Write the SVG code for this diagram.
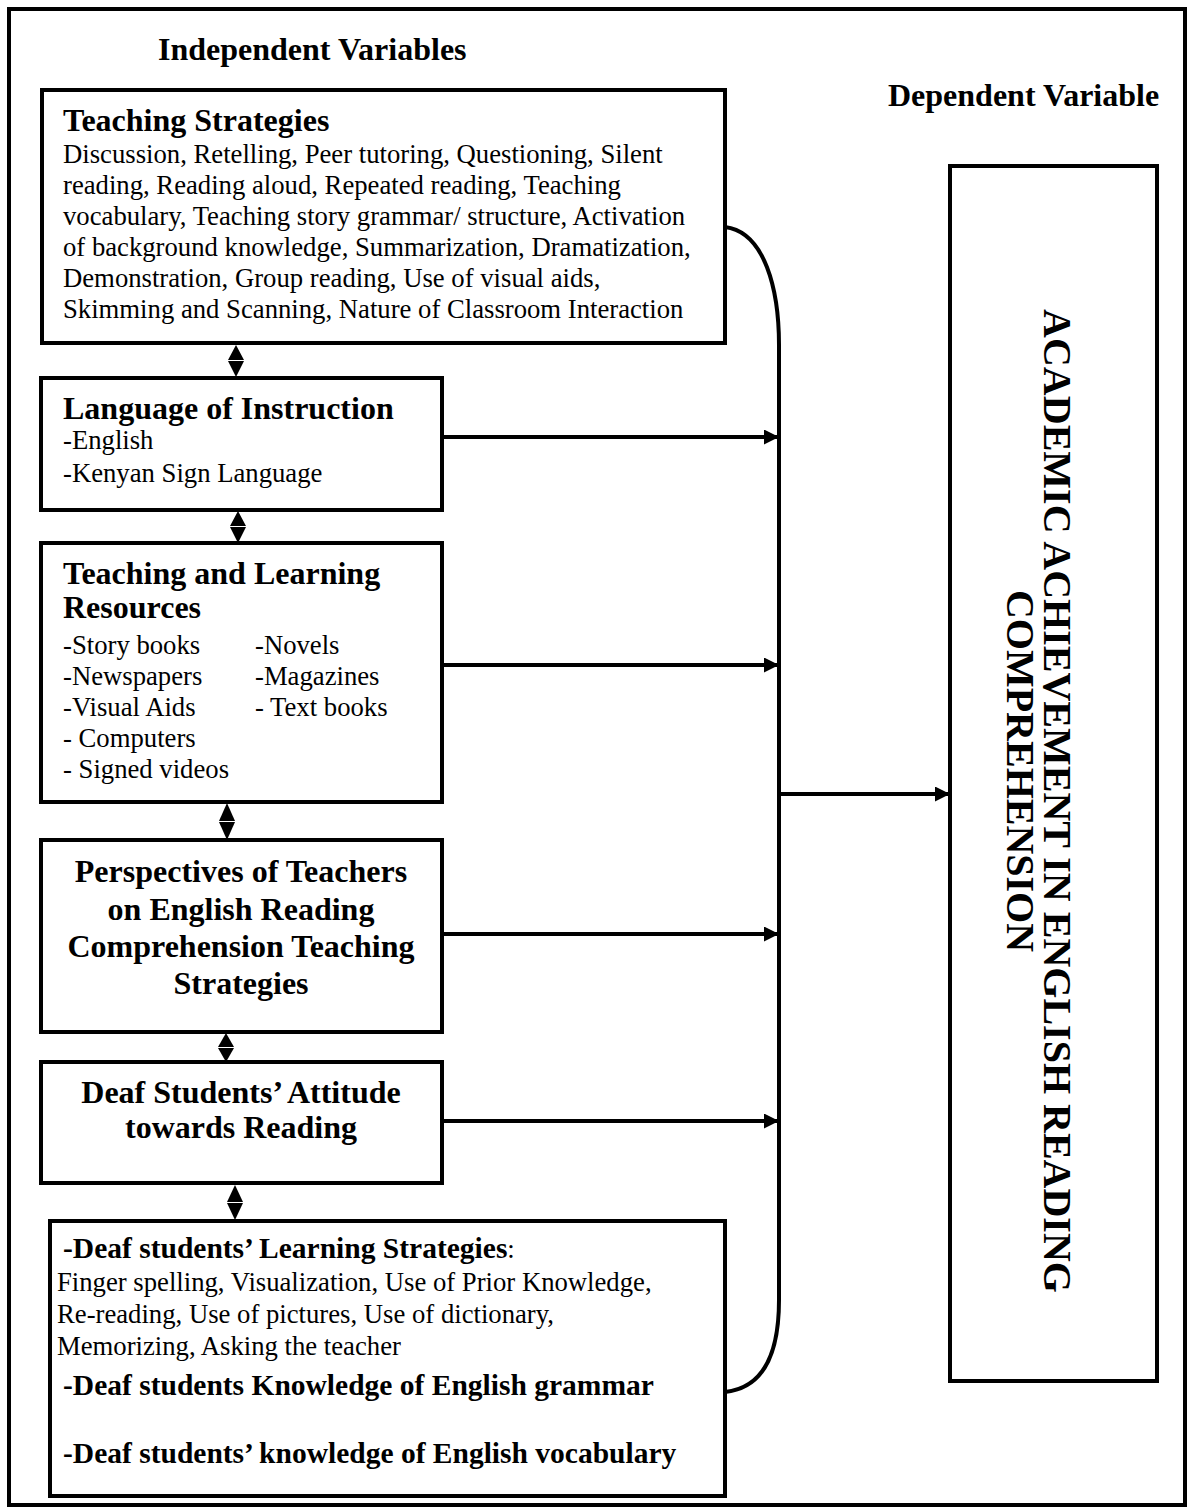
<svg xmlns="http://www.w3.org/2000/svg" width="1188" height="1508" viewBox="0 0 1188 1508">
<style>
.box{fill:#fff;stroke:#000;stroke-width:4}
.t{font-family:"Liberation Serif","Times New Roman",serif;font-size:26.7px;fill:#000}
.h{font-family:"Liberation Serif","Times New Roman",serif;font-size:32px;font-weight:bold;fill:#000}
.hb{font-family:"Liberation Serif","Times New Roman",serif;font-size:29.5px;font-weight:bold;fill:#000}
.c{text-anchor:middle}
.ln{fill:none;stroke:#000;stroke-width:4}
.dv{font-family:"Liberation Serif","Times New Roman",serif;font-size:40px;font-weight:bold;fill:#000;text-anchor:middle}
</style>
<defs>
<marker id="ah" viewBox="0 0 15 15" refX="15" refY="7.5" markerWidth="15" markerHeight="15" markerUnits="userSpaceOnUse" orient="auto">
<path d="M0,0 L15,7.5 L0,15 Z" fill="#000"/>
</marker>
</defs>
<rect x="0" y="0" width="1188" height="1508" fill="#fff"/>
<rect x="9" y="9" width="1176" height="1496" fill="none" stroke="#000" stroke-width="4"/>
<text class="h" x="158" y="60">Independent Variables</text>
<text class="h" x="888" y="106">Dependent Variable</text>

<g id="teaching-strategies">
<rect class="box" x="42" y="90" width="683" height="253"/>
<text class="h" x="63" y="131">Teaching Strategies</text>
<text class="t" x="63" y="163">Discussion, Retelling, Peer tutoring, Questioning, Silent</text>
<text class="t" x="63" y="194">reading, Reading aloud, Repeated reading, Teaching</text>
<text class="t" x="63" y="225">vocabulary, Teaching story grammar/ structure, Activation</text>
<text class="t" x="63" y="256">of background knowledge, Summarization, Dramatization,</text>
<text class="t" x="63" y="287">Demonstration, Group reading, Use of visual aids,</text>
<text class="t" x="63" y="318">Skimming and Scanning, Nature of Classroom Interaction</text>
</g>

<g id="language">
<rect class="box" x="41" y="378" width="401" height="132"/>
<text class="h" x="63" y="419">Language of Instruction</text>
<text class="t" x="63" y="449">-English</text>
<text class="t" x="63" y="482">-Kenyan Sign Language</text>
</g>

<g id="resources">
<rect class="box" x="41" y="543" width="401" height="259"/>
<text class="h" x="63" y="584">Teaching and Learning</text>
<text class="h" x="63" y="618">Resources</text>
<text class="t" x="63" y="654">-Story books</text>
<text class="t" x="255" y="654">-Novels</text>
<text class="t" x="63" y="685">-Newspapers</text>
<text class="t" x="255" y="685">-Magazines</text>
<text class="t" x="63" y="716">-Visual Aids</text>
<text class="t" x="255" y="716">- Text books</text>
<text class="t" x="63" y="747">- Computers</text>
<text class="t" x="63" y="778">- Signed videos</text>
</g>

<g id="perspectives">
<rect class="box" x="41" y="840" width="401" height="192"/>
<text class="h c" x="241" y="882">Perspectives of Teachers</text>
<text class="h c" x="241" y="920">on English Reading</text>
<text class="h c" x="241" y="957">Comprehension Teaching</text>
<text class="h c" x="241" y="994">Strategies</text>
</g>

<g id="attitude">
<rect class="box" x="41" y="1062" width="401" height="121"/>
<text class="h c" x="241" y="1103">Deaf Students’ Attitude</text>
<text class="h c" x="241" y="1138">towards Reading</text>
</g>

<g id="learning-strategies">
<rect class="box" x="50" y="1221" width="675" height="275"/>
<text x="63" y="1258"><tspan class="hb">-Deaf students’ Learning Strategies</tspan><tspan class="t">:</tspan></text>
<text class="t" x="57" y="1291">Finger spelling, Visualization, Use of Prior Knowledge,</text>
<text class="t" x="57" y="1323">Re-reading, Use of pictures, Use of dictionary,</text>
<text class="t" x="57" y="1355">Memorizing, Asking the teacher</text>
<text class="hb" x="63" y="1395">-Deaf students Knowledge of English grammar</text>
<text class="hb" x="63" y="1463">-Deaf students’ knowledge of English vocabulary</text>
</g>

<g id="dependent">
<rect class="box" x="950" y="166" width="207" height="1215"/>
<text class="dv" transform="translate(1044,801) rotate(90)">ACADEMIC ACHIEVEMENT IN ENGLISH READING</text>
<text class="dv" transform="translate(1007,771) rotate(90)">COMPREHENSION</text>
</g>

<g id="connectors">
<path class="ln" d="M725,227 C765,232 779,290 779,345 L779,1300 C779,1350 765,1388 725,1392"/>
<line class="ln" x1="442" y1="437" x2="779" y2="437" marker-end="url(#ah)"/>
<line class="ln" x1="442" y1="665" x2="779" y2="665" marker-end="url(#ah)"/>
<line class="ln" x1="442" y1="934" x2="779" y2="934" marker-end="url(#ah)"/>
<line class="ln" x1="442" y1="1121" x2="779" y2="1121" marker-end="url(#ah)"/>
<line class="ln" x1="779" y1="794" x2="950" y2="794" marker-end="url(#ah)"/>
<g fill="#000">
<polygon points="236,345 244,360 228,360"/><polygon points="228,361 244,361 236,377"/>
<polygon points="238,511 246,526 230,526"/><polygon points="230,527 246,527 238,543"/>
<polygon points="227,803 235,821 219,821"/><polygon points="219,822 235,822 227,840"/>
<polygon points="226,1033 234,1047 218,1047"/><polygon points="218,1048 234,1048 226,1062"/>
<polygon points="235,1185 243,1202 227,1202"/><polygon points="227,1203 243,1203 235,1220"/>
</g>
</g>
</svg>
